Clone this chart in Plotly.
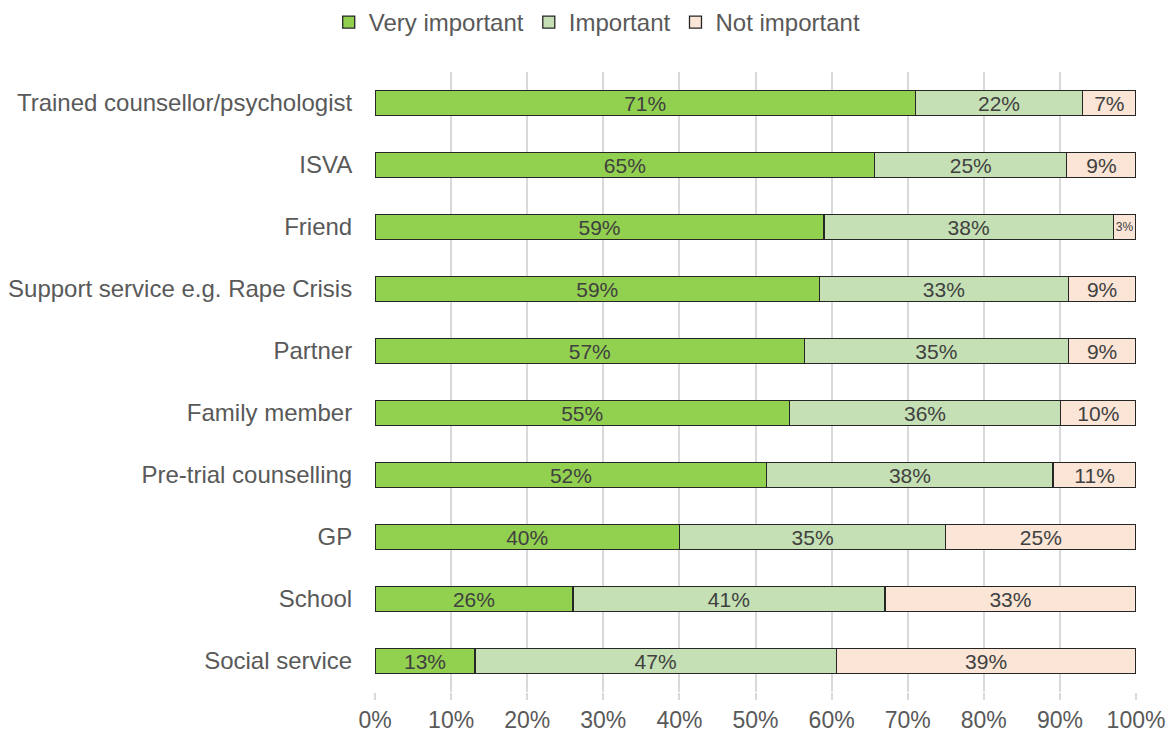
import plotly.graph_objects as go

# Sources of support and how important respondents rated them (percent of respondents)
sources = [
    "Trained counsellor/psychologist",
    "ISVA",
    "Friend",
    "Support service e.g. Rape Crisis",
    "Partner",
    "Family member",
    "Pre-trial counselling",
    "GP",
    "School",
    "Social service",
]
very_important = [71, 65, 59, 59, 57, 55, 52, 40, 26, 13]
important = [22, 25, 38, 33, 35, 36, 38, 35, 41, 47]
not_important = [7, 9, 3, 9, 9, 10, 11, 25, 33, 39]

x_ticks = list(range(0, 101, 10))

series = [
    ("Very important", very_important, "#92D050"),
    ("Important", important, "#C5E0B4"),
    ("Not important", not_important, "#FBE5D6"),
]

FONT = "Liberation Sans, Arial, sans-serif"

fig = go.Figure()
for name, values, color in series:
    fig.add_trace(
        go.Bar(
            name=name,
            y=sources,
            x=values,
            orientation="h",
            marker=dict(color=color, line=dict(color="#262626", width=1.3)),
            text=[f"{v}%" for v in values],
            textposition="inside",
            insidetextanchor="middle",
            textangle=0,
            constraintext="none",
            # very narrow segments get a smaller label so it stays inside
            textfont=dict(
                family=FONT,
                size=[12 if v < 5 else 21 for v in values],
                color="#404040",
            ),
            width=0.41,
        )
    )

fig.update_layout(
    barmode="stack",
    barnorm="percent",
    width=1171,
    height=733,
    margin=dict(l=375, r=35, t=72, b=41),
    plot_bgcolor="white",
    paper_bgcolor="white",
    font=dict(family=FONT, color="#595959", size=23),
    showlegend=True,
    legend=dict(
        orientation="h",
        x=0.51,
        xref="container",
        xanchor="center",
        y=1.0,
        yref="container",
        yanchor="top",
        font=dict(size=24, color="#595959"),
        traceorder="normal",
        itemwidth=30,
    ),
    xaxis=dict(
        range=[0, 100],
        tickvals=x_ticks,
        ticktext=[f"{v}%" for v in x_ticks],
        showgrid=True,
        gridcolor="#D9D9D9",
        gridwidth=2,
        zeroline=False,
        showline=False,
        ticks="outside",
        ticklen=7,
        tickwidth=2,
        tickcolor="#D9D9D9",
        tickfont=dict(size=23, color="#595959"),
        automargin=False,
    ),
    yaxis=dict(
        categoryorder="array",
        categoryarray=sources,
        autorange="reversed",
        showgrid=False,
        zeroline=False,
        showline=False,
        ticks="outside",
        ticklen=17,
        tickcolor="rgba(0,0,0,0)",
        tickfont=dict(size=24, color="#595959"),
        automargin=False,
    ),
)

fig.write_html("out.html")
